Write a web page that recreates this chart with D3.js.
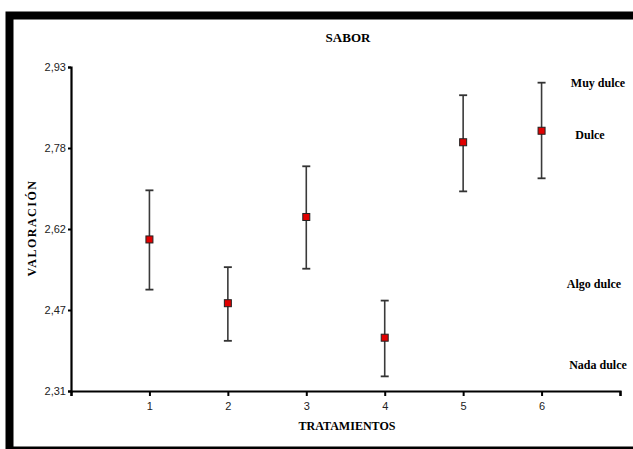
<!DOCTYPE html>
<html>
<head>
<meta charset="utf-8">
<script src="https://cdn.jsdelivr.net/npm/d3@7"></script>
<style>
  body { margin: 0; background: #fff; }
  svg { display: block; }
</style>
</head>
<body>
<div id="chart"></div>
<script>
// treatments and their mean score with the error bar ends
var treatments = [1, 2, 3, 4, 5, 6];
var means = [2.600, 2.478, 2.643, 2.412, 2.786, 2.808];
var lower = [2.504, 2.406, 2.544, 2.338, 2.692, 2.717];
var upper = [2.694, 2.547, 2.740, 2.483, 2.876, 2.900];

// y ticks are evenly spaced, labels rounded as in the original
var yTicks = [2.31, 2.465, 2.62, 2.775, 2.93];
var yTickLabels = ["2,31", "2,47", "2,62", "2,78", "2,93"];
var xTicks = [0, 1, 2, 3, 4, 5, 6, 7];

// verbal scale written on the right
var scaleLabels = ["Muy dulce", "Dulce", "Algo dulce", "Nada dulce"];
var scaleValues = [2.90, 2.80, 2.515, 2.36];

const width = 633, height = 449;
const svg = d3.select("#chart").append("svg")
    .attr("width", width)
    .attr("height", height);

// thick frame round the whole figure
svg.append("rect")
    .attr("x", 9.5).attr("y", 15.5)
    .attr("width", 700).attr("height", 435)
    .attr("fill", "none")
    .attr("stroke", "#000")
    .attr("stroke-width", 8);

const x = d3.scaleLinear().domain([0, 7]).range([71, 620]);
const y = d3.scaleLinear().domain([2.31, 2.93]).range([391, 67]);

const serif = "'Liberation Serif', 'Times New Roman', serif";
const sans = "'Liberation Sans', Arial, sans-serif";

// axes
const yAxis = svg.append("g")
    .attr("transform", "translate(71,0)")
    .call(d3.axisLeft(y).tickValues(yTicks)
        .tickFormat((d, i) => yTickLabels[i]).tickSize(3).tickPadding(2));
const xAxis = svg.append("g")
    .attr("transform", "translate(0,391)")
    .call(d3.axisBottom(x).tickValues(xTicks)
        .tickFormat(d => (d >= 1 && d <= 6) ? d : "").tickSize(5).tickPadding(6));

[yAxis, xAxis].forEach(g => {
    g.select(".domain").attr("stroke", "#000").attr("stroke-width", 2.2);
    g.selectAll(".tick line").attr("stroke", "#000").attr("stroke-width", 2);
    g.selectAll("text")
        .attr("font-family", sans)
        .attr("font-size", 11)
        .attr("fill", "#222");
});

// error bars
const bars = svg.append("g").selectAll("g")
    .data(treatments)
    .enter().append("g");

bars.append("line")
    .attr("x1", d => x(d)).attr("x2", d => x(d))
    .attr("y1", (d, i) => y(upper[i]))
    .attr("y2", (d, i) => y(lower[i]))
    .attr("stroke", "#3a3a3a").attr("stroke-width", 1.6);

bars.append("line")
    .attr("x1", d => x(d) - 4).attr("x2", d => x(d) + 4)
    .attr("y1", (d, i) => y(upper[i])).attr("y2", (d, i) => y(upper[i]))
    .attr("stroke", "#333").attr("stroke-width", 1.8);

bars.append("line")
    .attr("x1", d => x(d) - 4).attr("x2", d => x(d) + 4)
    .attr("y1", (d, i) => y(lower[i])).attr("y2", (d, i) => y(lower[i]))
    .attr("stroke", "#333").attr("stroke-width", 1.8);

bars.append("rect")
    .attr("x", d => x(d) - 3.5)
    .attr("y", (d, i) => y(means[i]) - 3.5)
    .attr("width", 7).attr("height", 7)
    .attr("fill", "#e00000")
    .attr("stroke", "#222").attr("stroke-width", 1);

// titles
svg.append("text")
    .attr("x", 348).attr("y", 42)
    .attr("text-anchor", "middle")
    .attr("font-family", serif).attr("font-weight", "bold")
    .attr("font-size", 13)
    .text("SABOR");

svg.append("text")
    .attr("x", 347).attr("y", 430)
    .attr("text-anchor", "middle")
    .attr("font-family", serif).attr("font-weight", "bold")
    .attr("font-size", 12.5)
    .attr("textLength", 97).attr("lengthAdjust", "spacingAndGlyphs")
    .text("TRATAMIENTOS");

svg.append("text")
    .attr("transform", "translate(36,228) rotate(-90)")
    .attr("text-anchor", "middle")
    .attr("font-family", serif).attr("font-weight", "bold")
    .attr("font-size", 12)
    .attr("letter-spacing", 1.5)
    .text("VALORACIÓN");

// verbal labels on the right
const labelX = [598, 590, 594, 598];
svg.append("g").selectAll("text")
    .data(scaleLabels)
    .enter().append("text")
    .attr("x", (d, i) => labelX[i])
    .attr("y", (d, i) => y(scaleValues[i]) + 4)
    .attr("text-anchor", "middle")
    .attr("font-family", serif).attr("font-weight", "bold")
    .attr("font-size", 12)
    .text(d => d);
</script>
</body>
</html>
